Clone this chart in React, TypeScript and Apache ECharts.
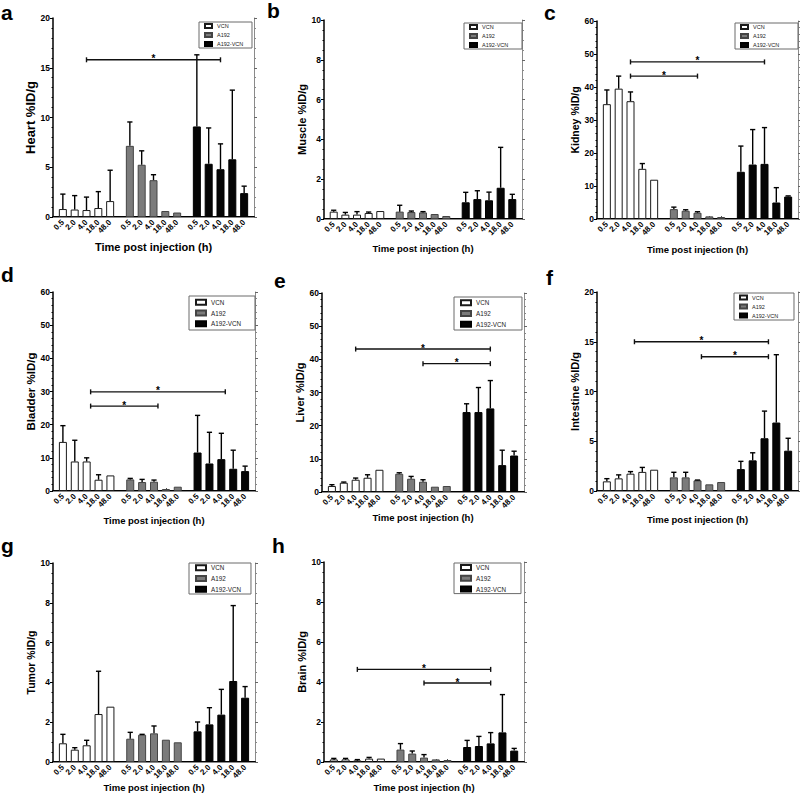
import React, { useEffect, useRef } from 'react';
import * as echarts from 'echarts';

const FONT = '"Liberation Sans", Arial, Helvetica, sans-serif';

// ---- categories ----
const groups = ['VCN', 'A192', 'A192-VCN'];
const times = ['0.5', '2.0', '4.0', '18.0', '48.0'];
const xTitle = 'Time post injection (h)';

// ---- values (mean, upper error end) : rows = VCN, A192, A192-VCN ----
const heartMean = [[0.8, 0.75, 0.7, 0.9, 1.6], [7.15, 5.25, 3.7, 0.6, 0.45], [9.1, 5.35, 4.8, 5.8, 2.4]];
const heartErr = [[2.3, 2.15, 2.0, 2.55, 4.7], [9.55, 6.65, 4.25, null, null], [16.3, 8.95, 7.35, 12.75, 3.1]];
const heartSig = [[0, 2, 2, 2, 15.8]];

const muscleMean = [[0.37, 0.22, 0.22, 0.3, 0.4], [0.37, 0.35, 0.33, 0.25, 0.15], [0.84, 1.0, 0.94, 1.57, 1.0]];
const muscleErr = [[0.44, 0.33, 0.37, 0.35, null], [0.69, 0.4, 0.37, null, null], [1.34, 1.42, 1.35, 3.6, 1.24]];
const muscleSig: number[][] = [];

const kidneyMean = [[34.8, 39.5, 35.7, 15.2, 11.9], [3.0, 2.5, 1.9, 0.8, 0.6], [14.3, 16.5, 16.7, 5.0, 6.8]];
const kidneyErr = [[39.1, 43.3, 38.5, 16.8, null], [3.6, 2.8, 2.2, null, null], [22.1, 27.1, 27.7, 9.5, 7.0]];
const kidneySig = [[0, 2, 2, 2, 47.6], [0, 2, 1, 2, 43.3]];

const bladderMean = [[14.8, 8.9, 8.9, 3.4, 4.7], [3.5, 2.7, 2.8, 0.6, 1.3], [11.6, 8.3, 9.6, 6.7, 6.0]];
const bladderErr = [[19.7, 15.3, 10.0, 4.9, null], [3.8, 3.5, 3.3, null, null], [22.8, 17.7, 17.4, 12.3, 7.5]];
const bladderSig = [[0, 2, 2, 2, 29.9], [0, 2, 1, 2, 25.6]];

const liverMean = [[1.8, 2.8, 3.7, 4.3, 6.7], [5.5, 4.0, 3.1, 1.6, 1.8], [24.1, 24.1, 25.2, 8.1, 11.0]];
const liverErr = [[2.2, 3.0, 4.2, 5.2, null], [5.8, 4.7, 3.7, null, null], [26.6, 31.5, 33.6, 12.6, 12.3]];
const liverSig = [[0, 2, 2, 2, 43.1], [1, 2, 2, 2, 38.7]];

const intestineMean = [[0.97, 1.27, 1.74, 1.92, 2.14], [1.37, 1.37, 1.07, 0.67, 0.9], [2.2, 3.08, 5.3, 6.88, 4.05]];
const intestineErr = [[1.24, 1.62, 1.95, 2.37, null], [1.88, 1.88, 1.1, null, null], [2.98, 3.84, 8.03, 13.7, 5.3]];
const intestineSig = [[0, 2, 2, 2, 15.0], [1, 2, 2, 2, 13.5]];

const tumorMean = [[0.94, 0.62, 0.84, 2.41, 2.78], [1.17, 1.37, 1.44, 1.12, 0.99], [1.54, 1.89, 2.38, 4.07, 3.23]];
const tumorErr = [[1.39, 0.72, 1.09, 4.56, null], [1.49, 1.39, 1.81, null, null], [2.01, 2.73, 3.65, 7.86, 3.79]];
const tumorSig: number[][] = [];

const brainMean = [[0.13, 0.13, 0.08, 0.17, 0.17], [0.62, 0.42, 0.22, 0.13, 0.1], [0.75, 0.8, 0.93, 1.48, 0.57]];
const brainErr = [[0.18, 0.18, 0.12, 0.23, null], [0.92, 0.55, 0.37, null, null], [1.08, 1.28, 1.47, 3.37, 0.68]];
const brainSig = [[0, 2, 2, 2, 4.63], [1, 2, 2, 2, 3.95]];

// ---- layout (positions / sizes / styles) ----
const SLOT_COUNT = 51;
const GROUP_START = [2, 19, 36];
const STEP = 3;

const barStyles = [
  { color: '#ffffff', borderColor: '#1a1a1a', borderWidth: 1 },
  { color: '#7b7b7b', borderColor: '#444444', borderWidth: 1 },
  { color: '#050505', borderColor: '#000000', borderWidth: 1 },
];

type Panel = {
  letter: string; title: string; ymax: number; yint: number; minor: number;
  mean: number[][]; err: (number | null)[][]; sig: number[][];
  grid: number[]; legend: number[]; big: boolean; letterPos: number[];
  titleSize: number; xTitleSize: number; xGap: number; shift: number;
};

const panels: Panel[] = [
  { letter: 'a', title: 'Heart %ID/g', ymax: 20, yint: 5, minor: 5, mean: heartMean, err: heartErr, sig: heartSig,
    grid: [53, 18, 201, 199], legend: [199, 22, 251, 48], big: false, letterPos: [1, 12.7], titleSize: 13, xTitleSize: 11, xGap: 24, shift: 0 },
  { letter: 'b', title: 'Muscle %ID/g', ymax: 10, yint: 2, minor: 4, mean: muscleMean, err: muscleErr, sig: muscleSig,
    grid: [324, 20, 198, 199], legend: [464, 23, 521, 49], big: false, letterPos: [267, 10.7], titleSize: 11, xTitleSize: 9.5, xGap: 24, shift: 0 },
  { letter: 'c', title: 'Kidney %ID/g', ymax: 60, yint: 10, minor: 5, mean: kidneyMean, err: kidneyErr, sig: kidneySig,
    grid: [597, 21, 201, 198], legend: [735, 23, 797, 47], big: false, letterPos: [544, 12.7], titleSize: 10.5, xTitleSize: 9.5, xGap: 25, shift: 0 },
  { letter: 'd', title: 'Bladder %ID/g', ymax: 60, yint: 10, minor: 5, mean: bladderMean, err: bladderErr, sig: bladderSig,
    grid: [53, 292, 202, 199], legend: [189, 296, 254, 330], big: true, letterPos: [1, 274.7], titleSize: 11.5, xTitleSize: 9.5, xGap: 24, shift: 1 },
  { letter: 'e', title: 'Liver %ID/g', ymax: 60, yint: 10, minor: 5, mean: liverMean, err: liverErr, sig: liverSig,
    grid: [322, 293, 202, 199], legend: [454, 297, 521, 330], big: true, letterPos: [274, 280.7], titleSize: 11, xTitleSize: 9.5, xGap: 20, shift: 0 },
  { letter: 'f', title: 'Intestine %ID/g', ymax: 20, yint: 5, minor: 5, mean: intestineMean, err: intestineErr, sig: intestineSig,
    grid: [597, 292, 201, 199], legend: [734, 293, 793, 320], big: false, letterPos: [546, 277.7], titleSize: 11, xTitleSize: 9.5, xGap: 23, shift: 1 },
  { letter: 'g', title: 'Tumor %ID/g', ymax: 10, yint: 2, minor: 4, mean: tumorMean, err: tumorErr, sig: tumorSig,
    grid: [53, 563, 202, 199], legend: [189, 563, 250, 594], big: true, letterPos: [1, 545.7], titleSize: 10.5, xTitleSize: 9.5, xGap: 16, shift: 0 },
  { letter: 'h', title: 'Brain %ID/g', ymax: 10, yint: 2, minor: 4, mean: brainMean, err: brainErr, sig: brainSig,
    grid: [324, 562, 200, 200], legend: [454, 563, 520, 593], big: true, letterPos: [272, 545.7], titleSize: 11, xTitleSize: 9.5, xGap: 16, shift: 0 },
];

const slots: string[] = Array.from({ length: SLOT_COUNT }, () => '');
GROUP_START.forEach((s) => times.forEach((t, i) => { slots[s + i * STEP] = t; }));
const slotOf = (g: number, t: number) => GROUP_START[g] + t * STEP;
const showSlot = (_i: number, v: string) => v !== '';

function buildOption() {
  const grid: any[] = [];
  const xAxis: any[] = [];
  const yAxis: any[] = [];
  const series: any[] = [];
  const legend: any[] = [];
  const graphic: any[] = [];

  panels.forEach((p, i) => {
    const [gl, gt, gw, gh] = p.grid;
    grid.push({ left: gl, top: gt, width: gw, height: gh, containLabel: false, outerBoundsMode: 'none' });
    xAxis.push({
      type: 'category', gridIndex: i, data: slots, position: 'bottom', boundaryGap: true,
      axisLine: { show: true, lineStyle: { color: '#000', width: 2 } },
      axisTick: { show: false },
      splitLine: { show: false },
      axisLabel: { interval: showSlot, rotate: 45, fontSize: 8, fontWeight: 'bold', fontFamily: FONT, color: '#000', margin: 4 },
      name: xTitle, nameLocation: 'middle', nameGap: p.xGap,
      nameTextStyle: { fontSize: p.xTitleSize, fontWeight: 'bold', fontFamily: FONT, color: '#000' },
    });
    xAxis.push({
      type: 'category', gridIndex: i, data: slots, position: 'top', boundaryGap: true,
      axisLine: { show: true, lineStyle: { color: '#8a8a8a', width: 1 } },
      axisTick: { show: true, interval: showSlot, alignWithLabel: true, length: 3, lineStyle: { color: '#555', width: 1 } },
      axisLabel: { show: false },
      splitLine: { show: false },
    });
    yAxis.push({
      type: 'value', gridIndex: i, min: 0, max: p.ymax, interval: p.yint, position: 'left',
      axisLine: { show: true, lineStyle: { color: '#000', width: 1.5 } },
      axisTick: { show: true, length: 3, lineStyle: { color: '#000', width: 1 } },
      minorTick: { show: true, splitNumber: p.minor, length: 1.5, lineStyle: { color: '#000', width: 1 } },
      splitLine: { show: false },
      axisLabel: { fontSize: 8.5, fontWeight: 'bold', fontFamily: FONT, color: '#000', margin: 3 },
      name: p.title, nameLocation: 'middle', nameGap: 15,
      nameTextStyle: { fontSize: p.titleSize, fontWeight: 'bold', fontFamily: FONT, color: '#000' },
    });
    yAxis.push({
      type: 'value', gridIndex: i, min: 0, max: p.ymax, interval: p.yint, position: 'right',
      axisLine: { show: true, lineStyle: { color: '#8a8a8a', width: 1 } },
      axisTick: { show: true, length: 3, lineStyle: { color: '#666', width: 1 } },
      minorTick: { show: true, splitNumber: p.minor, length: 2, lineStyle: { color: '#888', width: 1 } },
      splitLine: { show: false },
      axisLabel: { show: false },
    });

    const xi = i * 2;
    const yi = i * 2;
    groups.forEach((g, gi) => {
      const data: (number | null)[] = slots.map(() => null);
      p.mean[gi].forEach((v, t) => { data[slotOf(gi, t)] = v; });
      series.push({
        type: 'bar', name: g, xAxisIndex: xi, yAxisIndex: yi, data,
        barWidth: 8, barGap: '-100%', itemStyle: barStyles[gi], z: 2,
      });
    });

    const errData: number[][] = [];
    groups.forEach((_g, gi) => {
      p.err[gi].forEach((e, t) => {
        if (e != null) errData.push([slotOf(gi, t), p.mean[gi][t], e]);
      });
    });
    series.push({
      type: 'custom', name: 'err' + i, xAxisIndex: xi, yAxisIndex: yi, data: errData, z: 3,
      encode: { x: 0, y: [1, 2] }, silent: true,
      renderItem: (_params: any, api: any) => {
        const x = api.value(0), m = api.value(1), t = api.value(2);
        const p0 = api.coord([x, m]);
        const p1 = api.coord([x, t]);
        const st = { stroke: '#000', lineWidth: 1.4 };
        return {
          type: 'group', children: [
            { type: 'line', shape: { x1: p0[0], y1: p0[1], x2: p1[0], y2: p1[1] }, style: st },
            { type: 'line', shape: { x1: p1[0] - 2.6, y1: p1[1], x2: p1[0] + 2.6, y2: p1[1] }, style: st },
          ],
        };
      },
    });

    if (p.sig.length) {
      const sigData = p.sig.map((s) => [slotOf(s[0], s[1]) + p.shift, slotOf(s[2], s[3]) + p.shift, s[4]]);
      series.push({
        type: 'custom', name: 'sig' + i, xAxisIndex: xi, yAxisIndex: yi, data: sigData, z: 4,
        encode: { x: [0, 1], y: 2 }, silent: true,
        renderItem: (_params: any, api: any) => {
          const a = api.coord([api.value(0), api.value(2)]);
          const b = api.coord([api.value(1), api.value(2)]);
          const st = { stroke: '#111', lineWidth: 1.4 };
          return {
            type: 'group', children: [
              { type: 'line', shape: { x1: a[0], y1: a[1], x2: b[0], y2: b[1] }, style: st },
              { type: 'line', shape: { x1: a[0], y1: a[1] - 2.5, x2: a[0], y2: a[1] + 2.5 }, style: st },
              { type: 'line', shape: { x1: b[0], y1: b[1] - 2.5, x2: b[0], y2: b[1] + 2.5 }, style: st },
              { type: 'text', style: { text: '*', x: (a[0] + b[0]) / 2, y: a[1] - 1, align: 'center', verticalAlign: 'middle',
                fontSize: 10, fontWeight: 'bold', fontFamily: FONT, fill: '#000' } },
            ],
          };
        },
      });
    }

    const [lx0, ly0, lx1, ly1] = p.legend;
    const fs = p.big ? 6.3 : 5.5;
    const iw = p.big ? 10 : 7;
    const ih = p.big ? 5 : 4;
    const lh = p.big ? 7 : 6;
    const gap = p.big ? 3.8 : 3;
    const padL = p.big ? 6 : 5;
    const textW = 4.78 * fs;
    const padR = Math.max(2, (lx1 - lx0) - padL - iw - 5 - textW);
    const padV = Math.max(1, ((ly1 - ly0) - (3 * lh + 2 * gap)) / 2);
    legend.push({
      data: groups, orient: 'vertical', left: lx0, top: ly0, icon: 'rect',
      itemWidth: iw, itemHeight: ih, itemGap: gap, padding: [padV, padR, padV, padL],
      borderColor: '#6a6a6a', borderWidth: 1, backgroundColor: '#fff', selectedMode: false,
      textStyle: { fontSize: fs, lineHeight: lh, fontFamily: FONT, color: '#222' },
    });

    graphic.push({
      type: 'text', x: p.letterPos[0], y: p.letterPos[1],
      style: { text: p.letter, fontSize: 21, fontWeight: 'bold', fontFamily: FONT, fill: '#000', verticalAlign: 'middle', align: 'left' },
    });
  });

  return { animation: false, backgroundColor: '#fff', grid, xAxis, yAxis, series, legend, graphic };
}

export default function App() {
  const ref = useRef<HTMLDivElement>(null);
  useEffect(() => {
    if (!ref.current) return;
    const chart = echarts.init(ref.current, undefined, { renderer: 'svg' });
    chart.setOption(buildOption() as any);
    return () => chart.dispose();
  }, []);
  return <div ref={ref} style={{ position: 'fixed', left: 0, top: 0, width: 800, height: 799, background: '#fff' }} />;
}
